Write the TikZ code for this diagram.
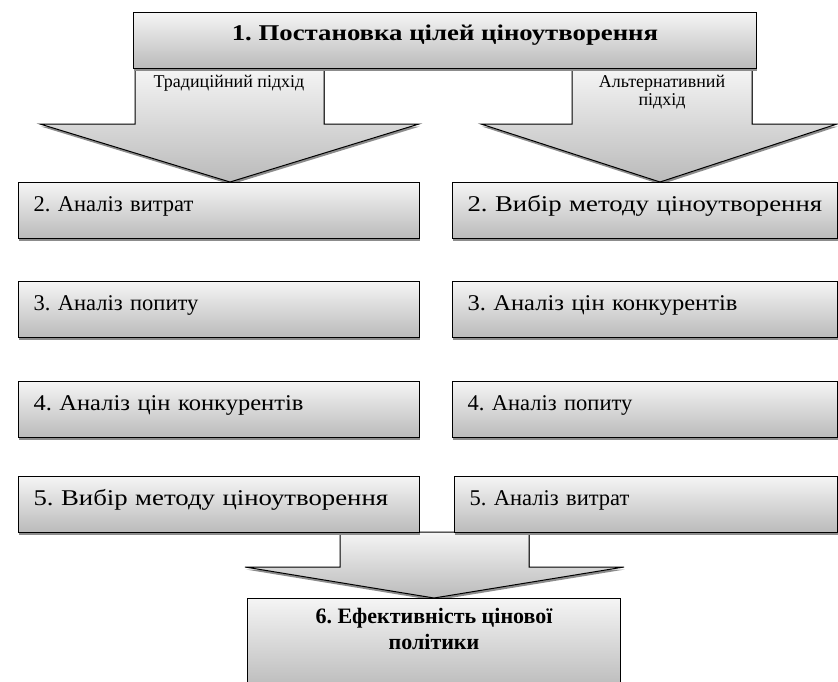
\documentclass[tikz,border=0pt]{standalone}
\usepackage{fontspec}
\setmainfont{Liberation Serif}
\newfontfamily\wideA[FakeStretch=1.09]{Liberation Serif}
\newfontfamily\wideB[FakeStretch=1.19]{Liberation Serif}
\usetikzlibrary{positioning,shadows}

\tikzset{
  grayfill/.style={top color=black!4, bottom color=black!27, draw=black, line width=1pt},
  boxshadow/.style={general shadow={fill=black!45, shadow xshift=0.8pt, shadow yshift=-2.5pt}},
  stepbox/.style={grayfill, boxshadow, anchor=north west, minimum height=56pt,
    inner xsep=15pt, inner ysep=0pt, text width=371pt, align=left,
    text height=29pt, text depth=27pt, font=\fontsize{22.5}{26}\selectfont},
  bigarrow/.style={grayfill, preaction={fill=black!45, transform canvas={shift={(0.8pt,-2.5pt)}}}},
  smalllab/.style={font=\fontsize{18}{18}\selectfont, align=center, inner sep=0pt},
  boldlab/.style={font=\bfseries\fontsize{22}{26}\selectfont, align=center, inner sep=0pt}
}

\begin{document}
\frenchspacing
\begin{tikzpicture}[x=1pt,y=-1pt]
\useasboundingbox (0,0) rectangle (838,681);

% two block arrows from the goal
\draw[bigarrow] (135,68) -- (324,68) -- (324,124) -- (419,124) -- (230,182)
  -- (40,124) -- (135,124) -- cycle;
\draw[bigarrow] (572,68) -- (752,68) -- (752,124) -- (837,124) -- (660,182)
  -- (481,124) -- (572,124) -- cycle;
\node[smalllab] (trad) at (229,83) {Традиційний підхід};
\node[smalllab] (alt) at (662,92) {Альтернативний\\підхід};

\node[grayfill, boxshadow, anchor=north west, minimum width=623pt, minimum height=56pt,
  inner ysep=0pt, text height=28pt, text depth=28pt,
  font=\wideB\bfseries\fontsize{22.5}{26}\selectfont]
  (goal) at (133,12) {1. Постановка цілей ціноутворення};

% traditional way
\node[stepbox] (t2) at (18,182) {2. Аналіз витрат};
\node[stepbox] (t3) at (18,281) {3. Аналіз попиту};
\node[stepbox] (t4) at (18,381) {\wideA 4. Аналіз цін конкурентів};

% alternative way
\node[stepbox, text width=355pt] (a2) at (452,182) {\wideB 2. Вибір методу ціноутворення};
\node[stepbox, text width=355pt] (a3) at (452,281) {\wideA 3. Аналіз цін конкурентів};
\node[stepbox, text width=355pt] (a4) at (452,381) {4. Аналіз попиту};

% down to the result
\draw[bigarrow] (340,532) -- (529,532) -- (529,567) -- (624,567) -- (434,598)
  -- (245,567) -- (340,567) -- cycle;
\node[stepbox] (t5) at (18,476) {\wideB 5. Вибір методу ціноутворення};
\node[stepbox, text width=353pt] (a5) at (454,476) {5. Аналіз витрат};

\node[grayfill, boxshadow, anchor=north west, minimum width=373pt, minimum height=92pt]
  (res) at (247,598) {};
\node[boldlab, below=10pt of res.north] (restext) {6. Ефективність цінової\\політики};
\end{tikzpicture}
\end{document}
